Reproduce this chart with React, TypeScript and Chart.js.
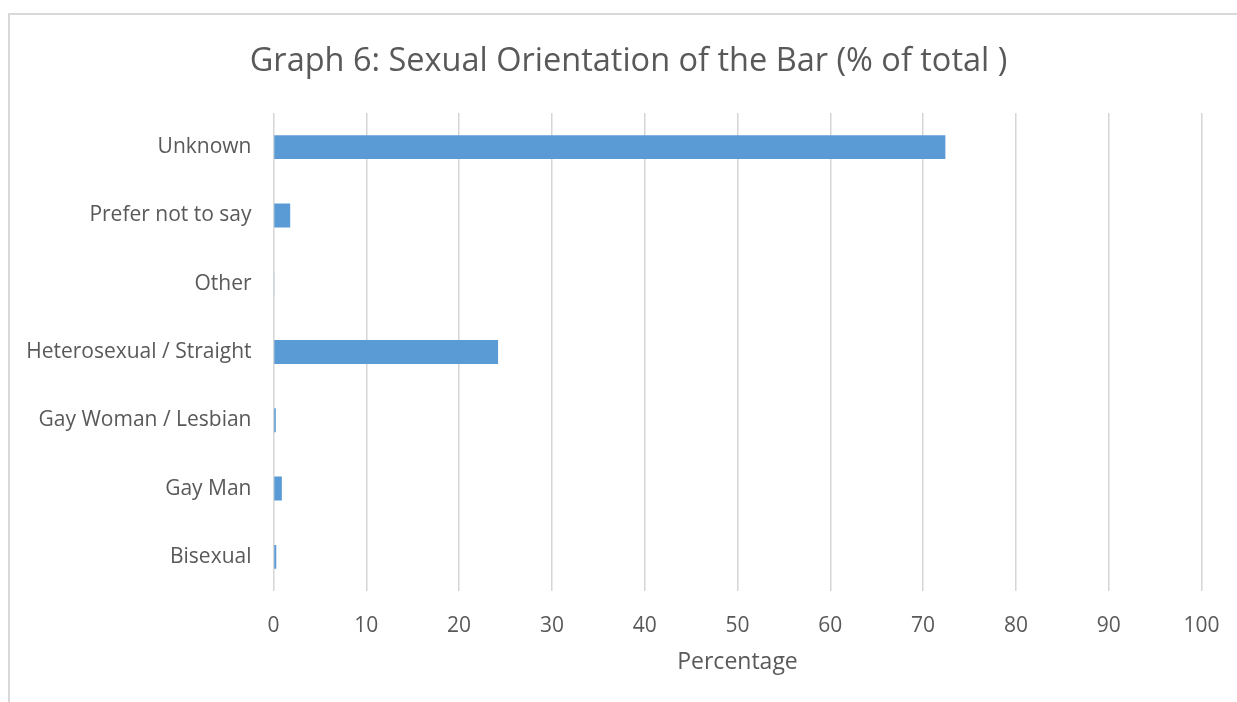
import React, { useEffect, useRef } from "react";
import { Chart, registerables } from "chart.js";

Chart.register(...registerables);

const categories = [
  "Unknown",
  "Prefer not to say",
  "Other",
  "Heterosexual / Straight",
  "Gay Woman / Lesbian",
  "Gay Man",
  "Bisexual",
];
const percentages = [72.4, 1.8, 0.1, 24.2, 0.25, 0.9, 0.3];
const xTicks = [0, 10, 20, 30, 40, 50, 60, 70, 80, 90, 100];

const FONT = "'Open Sans', 'DejaVu Sans', sans-serif";
const TEXT = "#595959";

// keep the built-in title centred over the framed area, not the padded box
const titleShift = {
  id: "titleShift",
  afterLayout(chart: any) {
    const tb = chart.titleBlock;
    if (tb) {
      tb.left = 20;
      tb.right = 1237;
      tb.width = tb.right - tb.left;
    }
  },
};

export default function App() {
  const ref = useRef<HTMLCanvasElement | null>(null);

  useEffect(() => {
    if (!ref.current) return;
    const chart = new Chart(ref.current, {
      type: "bar",
      data: {
        labels: categories,
        datasets: [
          {
            data: percentages,
            backgroundColor: "#5b9bd5",
            borderWidth: 0,
            barPercentage: 0.35,
            categoryPercentage: 1,
          },
        ],
      },
      plugins: [titleShift],
      options: {
        indexAxis: "y",
        animation: false,
        responsive: false,
        maintainAspectRatio: false,
        layout: { padding: { left: 10, right: 35.5, top: 0, bottom: 0 } },
        plugins: {
          legend: { display: false },
          tooltip: { enabled: false },
          title: {
            display: true,
            text: "Graph 6: Sexual Orientation of the Bar (% of total )",
            color: TEXT,
            font: { family: FONT, size: 32.5, weight: "normal" },
            padding: { top: 42, bottom: 32 },
          },
        },
        scales: {
          x: {
            min: 0,
            max: 100,
            afterBuildTicks: (scale: any) => {
              scale.ticks = xTicks.map((v) => ({ value: v }));
            },
            grid: {
              display: true,
              drawTicks: false,
              color: "#d6d6d6",
              lineWidth: 1.5,
            },
            border: { display: false },
            ticks: {
              color: TEXT,
              font: { family: FONT, size: 21 },
              padding: 22,
              maxRotation: 0,
            },
            title: {
              display: true,
              text: "Percentage",
              color: TEXT,
              font: { family: FONT, size: 23 },
              padding: { top: 0, bottom: 26 },
            },
            afterFit: (scale: any) => {
              scale.height = 111;
              scale.paddingLeft = 0;
              scale.paddingRight = 0;
            },
          },
          y: {
            grid: { display: false, drawTicks: false },
            border: { display: false },
            ticks: {
              color: TEXT,
              font: { family: FONT, size: 21 },
              padding: 22,
            },
            afterFit: (scale: any) => {
              scale.width = 263.5;
            },
          },
        },
      },
    });
    return () => chart.destroy();
  }, []);

  return (
    <div
      style={{
        position: "fixed",
        left: 0,
        top: 0,
        width: 1237,
        height: 702,
        background: "#ffffff",
      }}
    >
      <div
        style={{
          position: "absolute",
          left: 8,
          top: 13,
          right: 0,
          bottom: 0,
          borderTop: "2px solid #d9d9d9",
          borderLeft: "2px solid #d9d9d9",
        }}
      />
      <canvas
        ref={ref}
        width={1237}
        height={702}
        style={{ position: "absolute", left: 0, top: 0, width: 1237, height: 702 }}
      />
    </div>
  );
}
